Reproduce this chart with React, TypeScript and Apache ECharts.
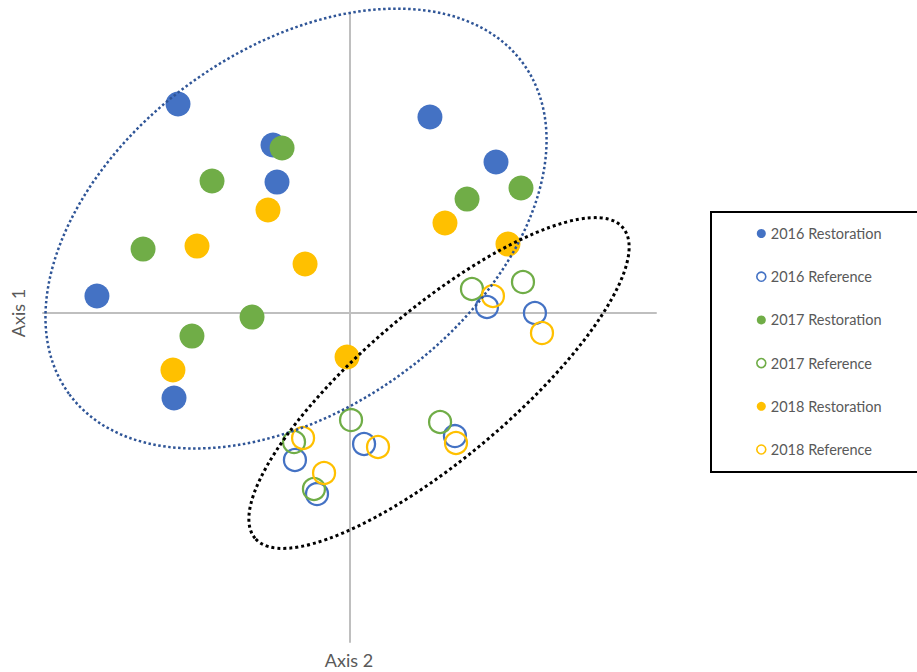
import React, { useEffect, useRef } from "react";
import * as echarts from "echarts";

const seriesNames = [
  "2016 Restoration",
  "2016 Reference",
  "2017 Restoration",
  "2017 Reference",
  "2018 Restoration",
  "2018 Reference",
];

const restoration2016: [number, number][] = [
  [-1.119, 1.398],
  [-0.499, 1.124],
  [-0.473, 0.876],
  [0.525, 1.311],
  [0.956, 1.01],
  [-1.648, 0.114],
  [-1.145, -0.568],
];
const reference2016: [number, number][] = [
  [0.897, 0.04],
  [1.21, 0.0],
  [-0.356, -0.983],
  [0.095, -0.876],
  [0.688, -0.823],
  [-0.212, -1.211],
];
const restoration2017: [number, number][] = [
  [-0.44, 1.104],
  [-0.897, 0.883],
  [-1.347, 0.428],
  [0.767, 0.762],
  [1.119, 0.836],
  [-0.636, -0.027],
  [-1.028, -0.154],
];
const reference2017: [number, number][] = [
  [0.799, 0.161],
  [1.132, 0.207],
  [-0.362, -0.863],
  [0.01, -0.716],
  [0.591, -0.729],
  [-0.232, -1.177],
];
const restoration2018: [number, number][] = [
  [-0.532, 0.689],
  [-0.995, 0.448],
  [-0.29, 0.328],
  [0.623, 0.602],
  [1.034, 0.461],
  [-1.152, -0.381],
  [-0.016, -0.294],
];
const reference2018: [number, number][] = [
  [0.936, 0.114],
  [1.256, -0.134],
  [-0.303, -0.836],
  [0.186, -0.896],
  [0.695, -0.869],
  [-0.166, -1.07],
];

// ellipse annotations: [centerX, centerY, semiMajor, semiMinor, angleDeg]
const restorationEllipse = [-0.349, 0.565, 1.832, 1.172, 36.0];
const referenceEllipse = [0.584, -0.468, 1.571, 0.4855, 40.2];

const BLUE = "#4472C4";
const GREEN = "#70AD47";
const YELLOW = "#FFC000";

export default function App() {
  const ref = useRef<HTMLDivElement>(null);

  useEffect(() => {
    if (!ref.current) return;
    const chart = echarts.init(ref.current, undefined, { renderer: "svg" });

    const filled = (name: string, data: [number, number][], color: string) => ({
      type: "scatter",
      name,
      data,
      symbol: "circle",
      symbolSize: 25,
      itemStyle: { color, opacity: 1 },
      z: 2,
    });
    const hollow = (name: string, data: [number, number][], color: string) => ({
      type: "scatter",
      name,
      data,
      symbol: "circle",
      symbolSize: 22,
      itemStyle: {
        color: "rgba(255,255,255,0)",
        borderColor: color,
        borderWidth: 2.25,
        opacity: 1,
      },
      z: 2,
    });

    const ellipseSeries = (
      name: string,
      params: number[],
      stroke: string,
      lineWidth: number
    ) => ({
      type: "custom",
      name,
      coordinateSystem: "cartesian2d",
      data: [params],
      encode: { x: 0, y: 1 },
      clip: false,
      silent: true,
      z: 10,
      renderItem: (p: any, api: any) => {
        const c = api.coord([api.value(0), api.value(1)]);
        const rx = api.size([api.value(2), 0])[0];
        const ry = api.size([api.value(3), 0])[0];
        return {
          type: "ellipse",
          x: c[0],
          y: c[1],
          rotation: (api.value(4) * Math.PI) / 180,
          shape: { cx: 0, cy: 0, rx, ry },
          style: {
            fill: "none",
            stroke,
            lineWidth,
            lineDash: [lineWidth, lineWidth],
          },
        };
      },
    });

    const colors = [BLUE, BLUE, GREEN, GREEN, YELLOW, YELLOW];

    chart.setOption({
      animation: false,
      grid: { left: 43, right: 261, top: 14, bottom: 30 },
      xAxis: {
        type: "value",
        min: -2,
        max: 2,
        axisLine: { onZero: true, lineStyle: { color: "#BFBFBF", width: 2 } },
        axisTick: { show: false },
        axisLabel: { show: false },
        splitLine: { show: false },
      },
      yAxis: {
        type: "value",
        min: -2.2,
        max: 2,
        axisLine: { onZero: true, lineStyle: { color: "#BFBFBF", width: 2 } },
        axisTick: { show: false },
        axisLabel: { show: false },
        splitLine: { show: false },
      },
      legend: {
        orient: "vertical",
        left: 751,
        top: 221,
        itemWidth: 9,
        itemHeight: 9,
        itemGap: 28.2,
        textStyle: {
          fontFamily: "Lato",
          fontSize: 14.5,
          color: "#595959",
          lineHeight: 14,
        },
        data: seriesNames.map((n, i) =>
          i % 2 === 0
            ? { name: n, icon: "circle", itemStyle: { color: colors[i] } }
            : {
                name: n,
                icon: "circle",
                itemStyle: {
                  color: "#fff",
                  borderColor: colors[i],
                  borderWidth: 1.6,
                },
              }
        ),
      },
      graphic: [
        {
          type: "rect",
          shape: { x: 711, y: 212, width: 220, height: 260 },
          style: { fill: "none", stroke: "#000", lineWidth: 2 },
          z: 0,
        },
        {
          type: "text",
          x: 18,
          y: 313,
          rotation: Math.PI / 2,
          style: {
            text: "Axis 1",
            fontFamily: "Lato",
            fontSize: 18,
            fill: "#595959",
            align: "center",
            verticalAlign: "middle",
          },
        },
        {
          type: "text",
          x: 349,
          y: 660,
          style: {
            text: "Axis 2",
            fontFamily: "Lato",
            fontSize: 18,
            fill: "#595959",
            align: "center",
            verticalAlign: "middle",
          },
        },
      ],
      series: [
        filled(seriesNames[0], restoration2016, BLUE),
        hollow(seriesNames[1], reference2016, BLUE),
        filled(seriesNames[2], restoration2017, GREEN),
        hollow(seriesNames[3], reference2017, GREEN),
        filled(seriesNames[4], restoration2018, YELLOW),
        hollow(seriesNames[5], reference2018, YELLOW),
        ellipseSeries("restorationEllipse", restorationEllipse, "#2F5597", 2.5),
        ellipseSeries("referenceEllipse", referenceEllipse, "#000000", 3),
      ],
    });

    return () => chart.dispose();
  }, []);

  return (
    <div
      ref={ref}
      style={{ position: "absolute", left: 0, top: 0, width: 917, height: 672 }}
    />
  );
}
